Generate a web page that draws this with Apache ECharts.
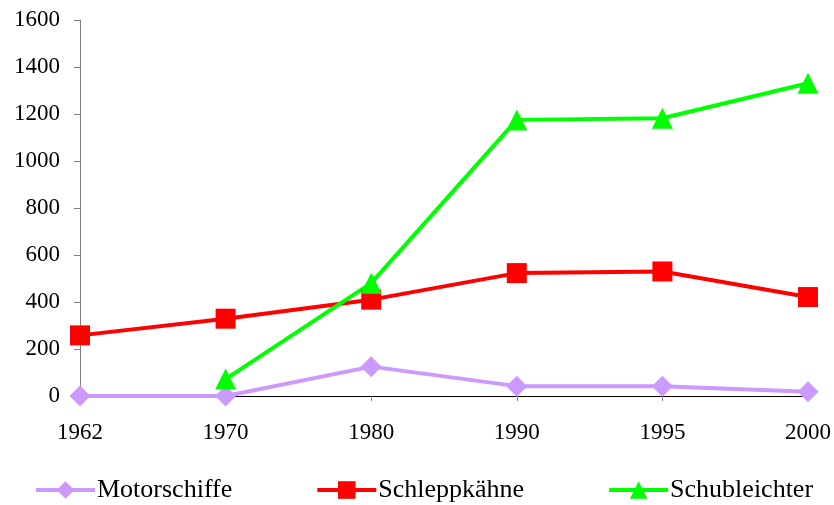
<!DOCTYPE html>
<html>
<head>
<meta charset="utf-8">
<script src="https://cdn.jsdelivr.net/npm/echarts@6/dist/echarts.min.js"></script>
<style>
  html, body { margin: 0; padding: 0; background: #fff; }
  #chart { width: 834px; height: 505px; }
</style>
</head>
<body>
<div id="chart"></div>
<script>
const years = ['1962', '1970', '1980', '1990', '1995', '2000'];
const motorschiffe = [0, 0, 125, 42, 42, 18];
const schleppkaehne = [258, 329, 410, 523, 530, 421];
const schubleichter = [null, 72, 480, 1175, 1182, 1331];

const font = 'Liberation Serif, Times New Roman, serif';

const chart = echarts.init(document.getElementById('chart'));
chart.setOption({
  animation: false,
  backgroundColor: '#fff',
  grid: { left: 80, right: 25, top: 20, bottom: 109 },
  legend: {
    left: 34,
    top: 477,
    padding: 0,
    itemWidth: 59,
    itemHeight: 22,
    itemGap: 83,
    lineStyle: { width: 4 },
    textStyle: { fontFamily: font, fontSize: 26, color: '#000', padding: [0, 0, 0, -3] },
    data: ['Motorschiffe', 'Schleppkähne', 'Schubleichter']
  },
  xAxis: {
    type: 'category',
    data: years,
    boundaryGap: false,
    axisLine: { lineStyle: { color: '#000', width: 1 } },
    axisTick: { show: true, length: 5, lineStyle: { color: '#808080' } },
    axisLabel: { fontFamily: font, fontSize: 23, color: '#000', margin: 25 }
  },
  yAxis: {
    type: 'value',
    min: 0,
    max: 1600,
    interval: 200,
    splitLine: { show: false },
    axisLine: { show: true, lineStyle: { color: '#808080', width: 1 } },
    axisTick: { show: true, length: 6, lineStyle: { color: '#808080' } },
    axisLabel: {
      fontFamily: font, fontSize: 23, color: '#000', margin: 20,
      formatter: function (v) { return String(v); }
    }
  },
  series: [
    {
      name: 'Motorschiffe',
      type: 'line',
      data: motorschiffe,
      symbol: 'diamond',
      symbolSize: 21,
      lineStyle: { color: '#CC99FF', width: 4 },
      itemStyle: { color: '#CC99FF' }
    },
    {
      name: 'Schleppkähne',
      type: 'line',
      data: schleppkaehne,
      symbol: 'rect',
      symbolSize: 20,
      lineStyle: { color: '#FF0000', width: 4 },
      itemStyle: { color: '#FF0000' }
    },
    {
      name: 'Schubleichter',
      type: 'line',
      data: schubleichter,
      symbol: 'triangle',
      symbolSize: 21,
      lineStyle: { color: '#00FF00', width: 4 },
      itemStyle: { color: '#00FF00' }
    }
  ]
});
</script>
</body>
</html>
